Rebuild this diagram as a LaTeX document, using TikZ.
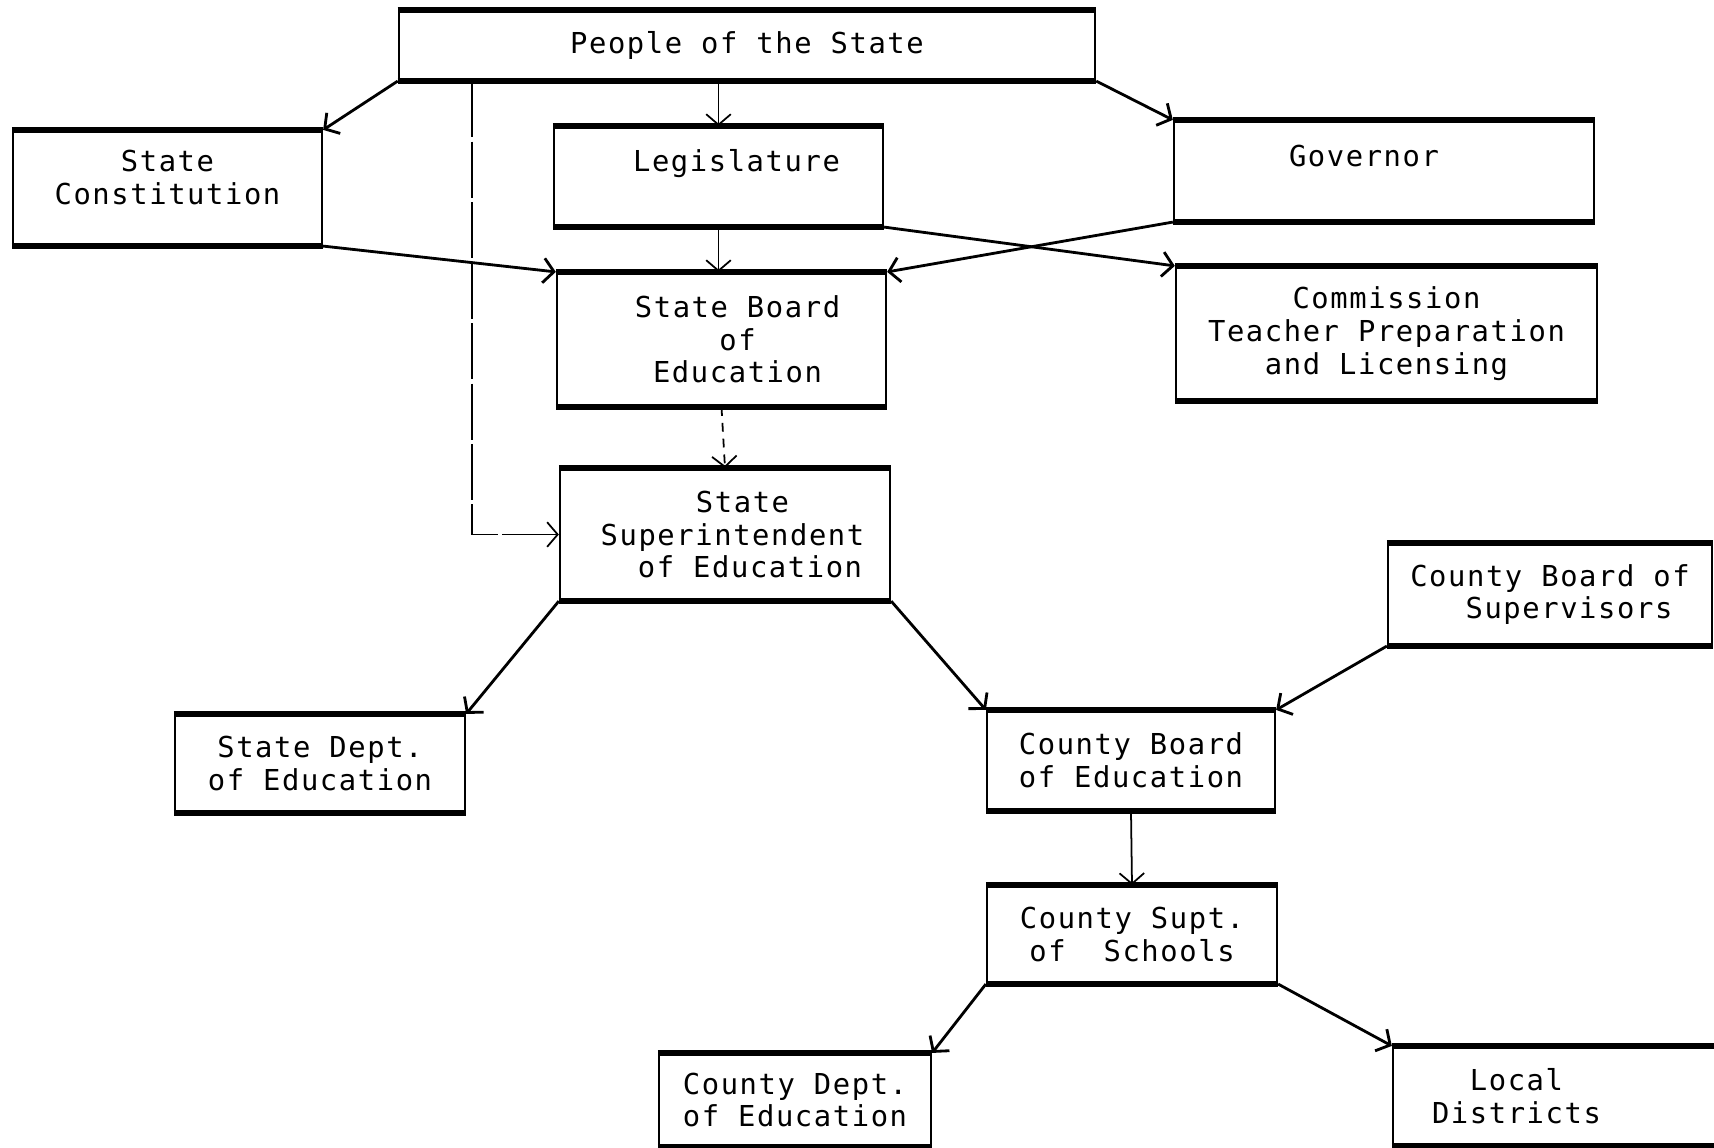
\documentclass[tikz,border=0pt]{standalone}
\usepackage{fontspec}
\newfontfamily\chartfont{DejaVu Sans Mono}[LetterSpace=5.5]
\usetikzlibrary{positioning, arrows.meta, calc}

\begin{document}
\begin{tikzpicture}[
    x=0.01cm, y=-0.01cm,
    % Define the style for the boxes
    box/.style={
        rectangle,
        draw,
        line width=0.6pt,
        inner sep=0pt,
        align=center,
        font=\chartfont\fontsize{8.2}{9.3}\selectfont
    },
    % Define the style for the heavy top and bottom edges
    rim/.style={
        line width=1.5pt
    },
    % Define the style for the arrows
    line/.style={
        draw,
        -{Straight Barb[length=3pt,width=7pt]},
        line width=0.8pt
    },
    feed/.style={
        line,
        line width=0.5pt
    },
    broken/.style={
        feed,
        dash pattern=on 2.5pt off 2pt
    },
    longbroken/.style={
        feed,
        dash pattern=on 16pt off 1.2pt
    }
]

    \fill [white] (0,0) rectangle (1714,1148);
    \clip (0,0) rectangle (1714,1148);

    % Place the nodes (boxes)
    \node [box, minimum width=6.96cm, minimum height=0.69cm] (people) at (747,45.5) {People of the State};
    \node [box, minimum width=3.09cm, minimum height=1.14cm, text depth=5.9pt] (constitution) at (167.5,188) {State\\Constitution};
    \node [box, minimum width=3.29cm, minimum height=0.99cm, text depth=9.4pt] (legislature) at (718.5,176.5) {\hspace*{0.36cm}Legislature};
    \node [box, minimum width=4.20cm, minimum height=1.00cm, text depth=8.5pt] (governor) at (1384,171) {Governor\hspace*{0.4cm}};
    \node [box, minimum width=3.29cm, minimum height=1.33cm] (stateboard) at (721.5,339.5) {\hspace*{0.32cm}State Board\\\hspace*{0.32cm}of\\\hspace*{0.32cm}Education};
    \node [box, minimum width=4.21cm, minimum height=1.33cm] (commission) at (1386.5,333.5) {Commission\\Teacher Preparation\\and Licensing};
    \node [box, minimum width=3.30cm, minimum height=1.31cm] (superintendent) at (725,534.5) {\hspace*{0.35cm}State\\\hspace*{0.15cm}Superintendent\\\hspace*{0.5cm}of Education};
    \node [box, minimum width=3.24cm, minimum height=1.01cm] (supervisors) at (1550,594.5) {County Board of\\\hspace*{0.38cm}Supervisors};
    \node [box, minimum width=2.90cm, minimum height=0.97cm] (statedept) at (320,763.5) {State Dept.\\of Education};
    \node [box, minimum width=2.88cm, minimum height=0.99cm] (countyboard) at (1131,760.5) {County Board\\of Education};
    \node [box, minimum width=2.90cm, minimum height=0.97cm] (countysupt) at (1132,934.5) {County Supt.\\of~ Schools};
    \node [box, minimum width=2.72cm, minimum height=0.92cm] (countydept) at (795,1100) {County Dept.\\of Education};
    \node [box, minimum width=3.47cm, minimum height=0.98cm] (districts) at (1566.5,1096) {Local\hspace*{1cm}\\Districts\hspace*{1cm}};

    % Heavy top and bottom edges
    \foreach \n in {people, constitution, legislature, governor, stateboard, commission,
        superintendent, supervisors, statedept, countyboard, countysupt, countydept, districts}
        \draw [rim] (\n.north west) -- (\n.north east) (\n.south west) -- (\n.south east);

    % Draw the arrows
    \path [line] (people.south west) -- (constitution.north east);
    \path [feed] (people.south -| legislature.north) -- (legislature.north);
    \path [line] (people.south east) -- (governor.north west);
    \path [longbroken] ($(people.south west)+(74,0)$) |- (superintendent.west);
    \path [line] (constitution.south east) -- (stateboard.north west);
    \path [feed] (legislature.south) -- (legislature.south |- stateboard.north);
    \path [line] (governor.south west) -- (stateboard.north east);
    \path [line] (legislature.south east) -- (commission.north west);
    \path [broken] (stateboard.south) -- (superintendent.north);
    \path [line] (superintendent.south west) -- (statedept.north east);
    \path [line] (superintendent.south east) -- (countyboard.north west);
    \path [line] (supervisors.south west) -- (countyboard.north east);
    \path [feed] (countyboard.south) -- (countysupt.north);
    \path [line] (countysupt.south west) -- (countydept.north east);
    \path [line] (countysupt.south east) -- (districts.north west);

\end{tikzpicture}
\end{document}
